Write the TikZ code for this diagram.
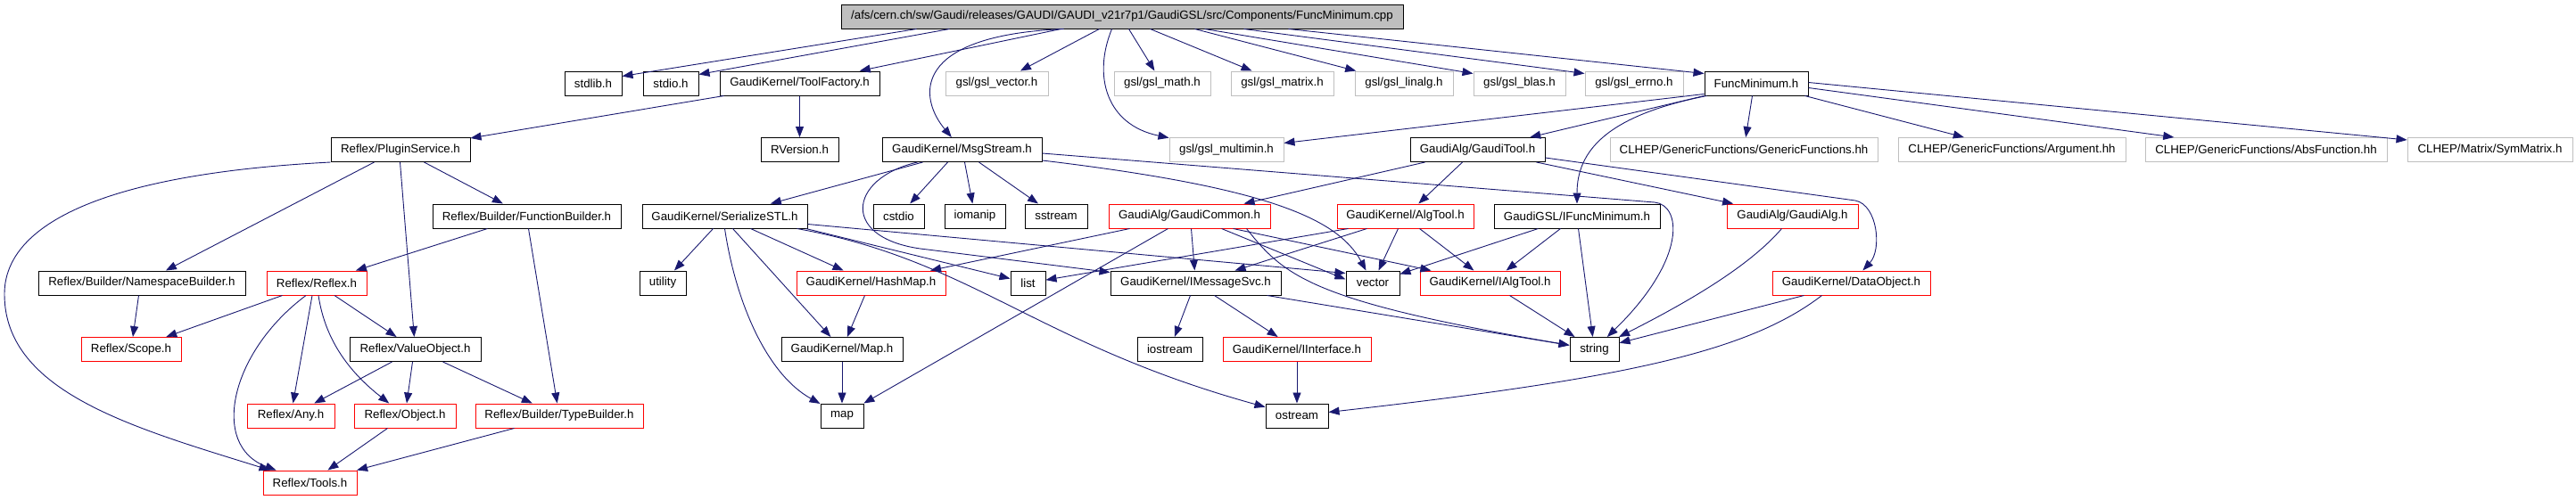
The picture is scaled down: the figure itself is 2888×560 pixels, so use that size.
\documentclass[tikz,border=0pt]{standalone}
\usepackage{fontspec}
\setmainfont{Liberation Sans}
\usetikzlibrary{arrows.meta}
\definecolor{edgeblue}{RGB}{25,25,112}
\definecolor{extgray}{RGB}{191,191,191}

\begin{document}
\begin{tikzpicture}[x=1pt,y=-1pt,>={Triangle[length=12pt,width=9pt]},
      hdr/.style={draw=black,line width=1pt,inner sep=0pt,minimum height=27pt,
        font=\fontsize{13.3}{16}\selectfont},
      hdr red/.style={hdr,draw=red},
      hdr ext/.style={hdr,draw=extgray},
      dep/.style={->,color=edgeblue,line width=0.9pt}
      ]
  \useasboundingbox (0,0) rectangle (2888,560);

  \node[hdr,fill=extgray,minimum width=630pt] (root) at (1258,18.5)
    {/afs/cern.ch/sw/Gaudi/releases/GAUDI/GAUDI\_v21r7p1/GaudiGSL/src/Components/FuncMinimum.cpp};

  \node[hdr,minimum width=64pt]      (stdlib)    at (665,93.5)    {stdlib.h};
  \node[hdr,minimum width=62pt]      (stdio)     at (752,93.5)    {stdio.h};
  \node[hdr,minimum width=179pt]     (toolfac)   at (896.5,93.5)  {GaudiKernel/ToolFactory.h};
  \node[hdr ext,minimum width=115pt] (gslvec)    at (1117.5,93.5) {gsl/gsl\_vector.h};
  \node[hdr ext,minimum width=108pt] (gslmath)   at (1303,93.5)   {gsl/gsl\_math.h};
  \node[hdr ext,minimum width=115pt] (gslmatrix) at (1437.5,93.5) {gsl/gsl\_matrix.h};
  \node[hdr ext,minimum width=110pt] (gsllinalg) at (1574,93.5)   {gsl/gsl\_linalg.h};
  \node[hdr ext,minimum width=103pt] (gslblas)   at (1703.5,93.5) {gsl/gsl\_blas.h};
  \node[hdr ext,minimum width=110pt] (gslerrno)  at (1832,93.5)   {gsl/gsl\_errno.h};
  \node[hdr,minimum width=116pt]     (funcmin)   at (1969,93.5)   {FuncMinimum.h};

  \node[hdr,minimum width=156pt]     (plugin)    at (449,168)     {Reflex/PluginService.h};
  \node[hdr,minimum width=87pt]      (rversion)  at (896.5,168)   {RVersion.h};
  \node[hdr,minimum width=179pt]     (msgstream) at (1078.5,168)  {GaudiKernel/MsgStream.h};
  \node[hdr ext,minimum width=128pt] (multimin)  at (1375,168)    {gsl/gsl\_multimin.h};
  \node[hdr,minimum width=151pt]     (gauditool) at (1656.5,168)  {GaudiAlg/GaudiTool.h};
  \node[hdr ext,minimum width=300pt] (genfun)    at (1955,168)    {CLHEP/GenericFunctions/GenericFunctions.hh};
  \node[hdr ext,minimum width=255pt] (argument)  at (2255.5,168)  {CLHEP/GenericFunctions/Argument.hh};
  \node[hdr ext,minimum width=271pt] (absfun)    at (2540.5,168)  {CLHEP/GenericFunctions/AbsFunction.hh};
  \node[hdr ext,minimum width=185pt] (symmatrix) at (2791.5,168)  {CLHEP/Matrix/SymMatrix.h};

  \node[hdr,minimum width=211pt]     (funcbuilder) at (590.5,242.5) {Reflex/Builder/FunctionBuilder.h};
  \node[hdr,minimum width=185pt]     (serialize)   at (812.5,242.5) {GaudiKernel/SerializeSTL.h};
  \node[hdr,minimum width=57pt]      (cstdio)      at (1007.5,242.5){cstdio};
  \node[hdr,minimum width=68pt]      (iomanip)     at (1093,242.5)  {iomanip};
  \node[hdr,minimum width=70pt]      (sstream)     at (1184,242.5)  {sstream};
  \node[hdr red,minimum width=181pt] (gaudicommon) at (1333.5,242.5){GaudiAlg/GaudiCommon.h};
  \node[hdr red,minimum width=153pt] (algtool)     at (1575.5,242.5){GaudiKernel/AlgTool.h};
  \node[hdr,minimum width=186pt]     (ifuncmin)    at (1768,242.5)  {GaudiGSL/IFuncMinimum.h};
  \node[hdr red,minimum width=147pt] (gaudialg)    at (2009.5,242.5){GaudiAlg/GaudiAlg.h};

  \node[hdr,minimum width=232pt]     (nsbuilder)  at (159,317.5)    {Reflex/Builder/NamespaceBuilder.h};
  \node[hdr red,minimum width=112pt] (reflex)     at (355,317.5)    {Reflex/Reflex.h};
  \node[hdr,minimum width=52pt]      (utility)    at (743,317.5)    {utility};
  \node[hdr red,minimum width=167pt] (hashmap)    at (976.5,317.5)  {GaudiKernel/HashMap.h};
  \node[hdr,minimum width=39pt]      (list)       at (1152.5,317.5) {list};
  \node[hdr,minimum width=191pt]     (imsgsvc)    at (1340.5,317.5) {GaudiKernel/IMessageSvc.h};
  \node[hdr,minimum width=60pt]      (vector)     at (1539,317.5)   {vector};
  \node[hdr red,minimum width=157pt] (ialgtool)   at (1670.5,317.5) {GaudiKernel/IAlgTool.h};
  \node[hdr red,minimum width=177pt] (dataobject) at (2075.5,317.5) {GaudiKernel/DataObject.h};

  \node[hdr red,minimum width=112pt] (scope)      at (147,392)      {Reflex/Scope.h};
  \node[hdr,minimum width=147pt]     (valueobj)   at (465.5,392)    {Reflex/ValueObject.h};
  \node[hdr,minimum width=136pt]     (gkmap)      at (944,392)      {GaudiKernel/Map.h};
  \node[hdr,minimum width=73pt]      (iostream)   at (1311.5,392)   {iostream};
  \node[hdr red,minimum width=166pt] (iinterface) at (1454,392)     {GaudiKernel/IInterface.h};
  \node[hdr,minimum width=55pt]      (string)     at (1787.5,392)   {string};

  \node[hdr red,minimum width=98pt]  (any)         at (326,466.5)   {Reflex/Any.h};
  \node[hdr red,minimum width=114pt] (object)      at (454,466.5)   {Reflex/Object.h};
  \node[hdr red,minimum width=188pt] (typebuilder) at (627,466.5)   {Reflex/Builder/TypeBuilder.h};
  \node[hdr,minimum width=48pt]      (map)         at (944,466.5)   {map};
  \node[hdr,minimum width=70pt]      (ostream)     at (1454,466.5)  {ostream};

  \node[hdr red,minimum width=105pt] (tools)       at (347.5,541.5) {Reflex/Tools.h};

  \path[dep] ([xshift=85pt]root.south west) edge ([yshift=8pt]stdlib.east)
    ([xshift=122pt]root.south west) edge ([yshift=10pt]stdio.east)
    ([xshift=247pt]root.south west) edge (toolfac)
    ([xshift=290pt]root.south west) edge (gslvec)
    ([xshift=323pt]root.south west) edge (gslmath)
    ([xshift=347pt]root.south west) edge (gslmatrix)
    ([xshift=397pt]root.south west) edge (gsllinalg)
    ([xshift=408pt]root.south west) edge ([yshift=11pt]gslblas.west)
    ([xshift=452pt]root.south west) edge ([yshift=11pt]gslerrno.west)
    ([xshift=502pt]root.south west) edge ([yshift=11pt]funcmin.west);
  \draw[dep] ([xshift=250pt]root.south west) .. controls (1020,40) and (1030,110) .. (msgstream);
  \draw[dep] ([xshift=304pt]root.south west) .. controls (1225,85) and (1240,140) .. (multimin);

  \path[dep] ([xshift=5pt]toolfac.south west) edge (plugin)
    (toolfac.south) edge (rversion);

  \draw[dep] (plugin.south west) .. controls (120,195) and (5,250) .. (5,330)
    .. controls (5,440) and (150,480) .. (tools);
  \path[dep] ([xshift=49pt]plugin.south west) edge (nsbuilder)
    ([xshift=78pt]plugin.south west) edge (valueobj)
    ([xshift=-52pt]plugin.south east) edge (funcbuilder);

  \path[dep] ([xshift=62pt]funcbuilder.south west) edge (reflex)
    ([xshift=108pt]funcbuilder.south west) edge (typebuilder)
    ([xshift=113pt]nsbuilder.south west) edge (scope);

  \path[dep] ([xshift=18pt]reflex.south west) edge (scope)
    ([xshift=-5pt]reflex.south) edge (any)
    ([xshift=20pt]reflex.south) edge (valueobj);
  \draw[dep] ([xshift=-12pt]reflex.south) .. controls (258,395) and (235,500) .. (tools);
  \draw[dep] ([xshift=2pt]reflex.south) .. controls (365,385) and (395,420) .. (object);

  \path[dep] ([xshift=48pt]valueobj.south west) edge (any)
    ([xshift=71pt]valueobj.south west) edge (object)
    ([xshift=105pt]valueobj.south west) edge (typebuilder)
    ([xshift=38pt]object.south west) edge (tools)
    ([xshift=44pt]typebuilder.south west) edge (tools);

  \path[dep] ([xshift=46pt]msgstream.south west) edge (serialize)
    ([xshift=74pt]msgstream.south west) edge (cstdio)
    ([xshift=93pt]msgstream.south west) edge (iomanip)
    ([xshift=109pt]msgstream.south west) edge (sstream);
  \draw[dep] ([xshift=40pt]msgstream.south west) .. controls (950,200) and (940,270) .. (1040,280) -- (imsgsvc);
  \draw[dep] ([yshift=2pt]msgstream.south east) .. controls (1420,210) and (1500,245) .. (vector);
  \draw[dep] ([yshift=-4pt]msgstream.east) -- (1855,227) .. controls (1885,230) and (1892,290) .. (string);

  \path[dep] ([xshift=80pt]serialize.south west) edge (utility)
    ([xshift=102pt]serialize.south west) edge (gkmap)
    ([xshift=122pt]serialize.south west) edge (hashmap)
    ([xshift=-2pt]serialize.south east) edge (list)
    ([yshift=5pt]serialize.south east) edge ([yshift=11pt]vector.west);
  \draw[dep] ([xshift=93pt]serialize.south west) .. controls (825,340) and (860,420) .. (map);
  \draw[dep] ([xshift=-12pt]serialize.south east) .. controls (1090,292) and (1160,385) .. (ostream);

  \path[dep] ([xshift=77pt]hashmap.south west) edge (gkmap)
    (gkmap) edge (map);

  \path[dep] ([xshift=24pt]gaudicommon.south west) edge (hashmap)
    ([xshift=67pt]gaudicommon.south west) edge (map)
    ([xshift=93pt]gaudicommon.south west) edge (imsgsvc)
    ([xshift=127pt]gaudicommon.south west) edge ([yshift=4pt]vector.west)
    ([xshift=140pt]gaudicommon.south west) edge (ialgtool);
  \draw[dep] ([xshift=155pt]gaudicommon.south west) .. controls (1440,310) and (1470,338) .. (string);

  \path[dep] ([xshift=34pt]algtool.south west) edge (imsgsvc)
    ([xshift=13pt]algtool.south west) edge (list)
    ([xshift=69pt]algtool.south west) edge (vector)
    ([xshift=93pt]algtool.south west) edge (ialgtool);

  \path[dep] ([xshift=50pt]ifuncmin.south west) edge (vector)
    ([xshift=75pt]ifuncmin.south west) edge (ialgtool)
    ([xshift=95pt]ifuncmin.south west) edge (string);

  \path[dep] ([xshift=17pt]gauditool.south west) edge (gaudicommon)
    ([xshift=59pt]gauditool.south west) edge (algtool)
    ([xshift=-10pt]gauditool.south east) edge (gaudialg);
  \draw[dep] ([yshift=-9pt]gauditool.east) -- (2080,225) .. controls (2105,230) and (2110,280) .. (dataobject);

  \path[dep] (funcmin.south west) edge (gauditool)
    ([yshift=2pt]funcmin.south west) edge (multimin)
    ([xshift=54pt]funcmin.south west) edge (genfun)
    ([xshift=-4pt]funcmin.south east) edge (argument)
    ([yshift=-5pt]funcmin.east) edge (absfun)
    ([yshift=1pt]funcmin.east) edge ([yshift=-3pt]symmatrix.north west);
  \draw[dep] ([xshift=3pt]funcmin.south west) .. controls (1800,130) and (1768,170) .. (ifuncmin);

  \draw[dep] ([xshift=-12pt]gaudialg.south) .. controls (1960,300) and (1890,340) .. (string);

  \path[dep] ([xshift=36pt]dataobject.south west) edge (string)
    ([xshift=101pt]ialgtool.south west) edge (string);
  \draw[dep] ([xshift=56pt]dataobject.south west) .. controls (1960,395) and (1820,425) .. (ostream);

  \path[dep] ([xshift=90pt]imsgsvc.south west) edge (iostream)
    ([xshift=117pt]imsgsvc.south west) edge (iinterface)
    ([xshift=-16pt]imsgsvc.south east) edge (string)
    (iinterface) edge (ostream);
\end{tikzpicture}
\end{document}
